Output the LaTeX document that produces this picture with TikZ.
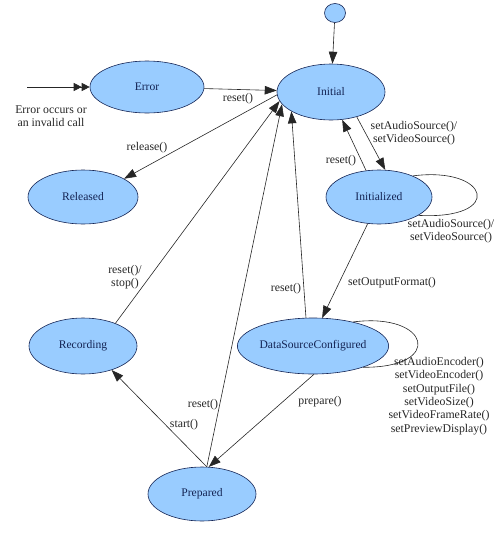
\documentclass[tikz,border=0pt]{standalone}
\usepackage{fontspec}
\setmainfont{Liberation Serif}
\usetikzlibrary{shapes.geometric,arrows.meta}
\definecolor{statefill}{RGB}{153,204,255}
\definecolor{statetext}{RGB}{20,36,84}
\tikzset{
  state/.style={ellipse, draw=statetext, fill=statefill, line width=0.6pt, inner sep=0pt, text=statetext, font=\fontsize{11.6}{13}\selectfont},
  trans/.style={-{Triangle[length=12pt,width=8.5pt]}, line width=0.6pt, color=black!85},
  lbl/.style={font=\fontsize{11.8}{13.3}\selectfont, inner sep=0pt, align=center, text=black!85}
}
\begin{document}
\begin{tikzpicture}[x=1pt,y=-1pt]
        \useasboundingbox (0,0) rectangle (500,552);
        % states
        \node[state, minimum width=21pt, minimum height=19pt] (start) at (335,13) {};
        \node[state, minimum width=108pt, minimum height=56pt] (init) at (331,92) {Initial};
        \node[state, minimum width=114pt, minimum height=52pt] (err) at (147,87) {Error};
        \node[state, minimum width=110pt, minimum height=54pt] (rel) at (83,197) {Released};
        \node[state, minimum width=106pt, minimum height=54pt] (ini) at (379,197) {Initialized};
        \node[state, minimum width=108pt, minimum height=56pt] (rec) at (83,346) {Recording};
        \node[state, minimum width=122pt, minimum height=56pt] (dsc) at (313,346) {DataSourceConfigured};
        \node[state, minimum width=108pt, minimum height=54pt] (pre) at (202,494) {Prepared};
        
        % entry arrows
        \draw [trans] (start) -- (init);
        \coordinate (errin) at (27,87);
        \draw [-{Triangle[length=8pt,width=8pt]Triangle[length=8pt,width=8pt]}, line width=0.6pt, color=black!85] (errin) -- (err);
        \node[lbl] (lberr) at (51,116) {Error occurs or\\an invalid call};
        
        % back to Initial
        \draw [trans] (err) -- (init);
        \node[lbl] (lbreseta) at (238,99) {reset()};
        \draw [trans] (rec.35) -- (init.190);
        \node[lbl] (lbresetb) at (125,277) {reset()/\\stop()};
        \draw [trans] (pre.80) -- (init.194);
        \node[lbl] (lbresetc) at (203,405) {reset()};
        \draw [trans] (dsc.104) -- (init.206);
        \node[lbl] (lbresetd) at (286,289) {reset()};
        \draw [trans] (ini.116) -- (init.292);
        \node[lbl] (lbresete) at (341,161) {reset()};
        
        % forward
        \draw [trans] (init.183) -- (rel.24);
        \node[lbl] (lbrelease) at (147,148) {release()};
        \draw [trans] (init.316) -- (ini.77);
        \node[lbl] (lbsource) at (414,133) {setAudioSource()/\\setVideoSource()};
        \draw [trans] (ini.247) -- (dsc.72);
        \node[lbl] (lbformat) at (392,283) {setOutputFormat()};
        \draw [trans] (dsc.272) -- (pre.76);
        \node[lbl] (lbprepare) at (320,402) {prepare()};
        \draw [trans] (pre.80) -- (rec.320);
        \node[lbl] (lbstart) at (184,425) {start()};
        
        % self loops
        \draw [line width=0.6pt, color=black!85] (ini.32) .. controls (490,166) and (505,220) .. (ini.335);
        \node[lbl] (lbsourceb) at (451,231) {setAudioSource()/\\setVideoSource()};
        \draw [line width=0.6pt, color=black!85] (dsc.31) .. controls (430,312) and (445,368) .. (dsc.337);
        \node[lbl] (lbsetup) at (439,396) {setAudioEncoder()\\setVideoEncoder()\\setOutputFile()\\setVideoSize()\\setVideoFrameRate()\\setPreviewDisplay()};
        
    \end{tikzpicture}
\end{document}
